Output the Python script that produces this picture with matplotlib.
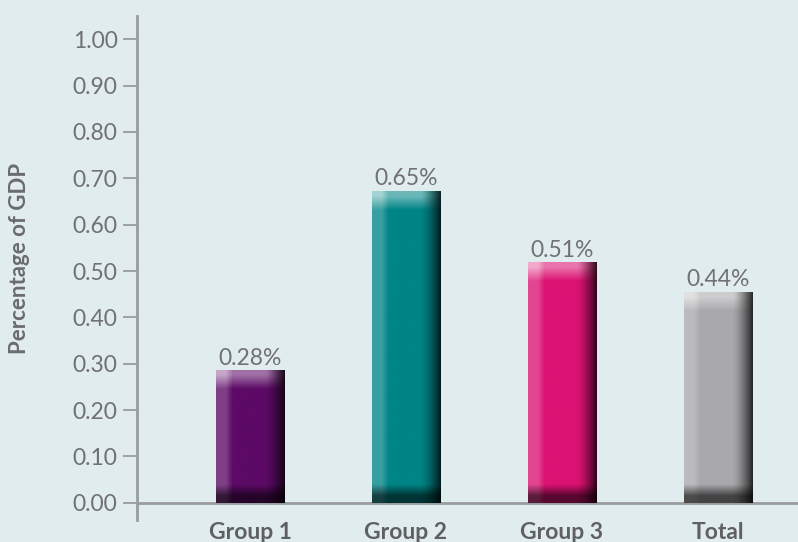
import numpy as np
import matplotlib
matplotlib.use("Agg")
import matplotlib.pyplot as plt
import matplotlib.colors as mcolors

categories = ["Group 1", "Group 2", "Group 3", "Total"]
heights = [0.285, 0.672, 0.518, 0.454]
value_labels = ["0.28%", "0.65%", "0.51%", "0.44%"]
bar_colors = ["#5c0a66", "#008486", "#dc1273", "#a9a9ac"]
yticks = [0.0, 0.1, 0.2, 0.3, 0.4, 0.5, 0.6, 0.7, 0.8, 0.9, 1.0]

bg = "#e0ecee"
axis_gray = "#9a9c9e"
text_gray = "#707173"

plt.rcParams["font.family"] = ["Lato", "DejaVu Sans"]


def bar_image(color, h, band=0.04, n=400, m=100):
    base = np.array(mcolors.to_rgb(color))
    u = np.linspace(0, 1, m)[None, :]
    y = np.linspace(h, 0, n)[:, None]
    # left highlight, right shadow
    light = 0.22 * np.clip((0.24 - u) / 0.1, 0, 1)
    dark = 1 - 0.78 * np.clip((u - 0.7) / 0.3, 0, 1) ** 1.5
    # top bevel lighter, bottom bevel darker
    top = np.clip((band - (h - y)) / 0.03, 0, 1)
    light = light + 0.42 * top * (1 - 0.6 * np.clip((u - 0.75) / 0.25, 0, 1))
    bot = np.clip((band - y) / 0.025, 0, 1)
    dark = dark * (1 - 0.6 * bot)
    light = np.clip(light, 0, 1)
    img = base[None, None, :] * (1 - light[..., None]) + light[..., None]
    img = img * dark[..., None]
    return np.clip(img, 0, 1)


fig = plt.figure(figsize=(7.98, 5.42), dpi=100, facecolor=bg)
ax = fig.add_axes([137 / 798, (542 - 520) / 542, (798 - 137) / 798, (520 - 16) / 542])
ax.set_facecolor(bg)

x = np.arange(len(categories))
bars = ax.bar(x, heights, width=0.44, color=bar_colors, zorder=2)

for b, col, lab in zip(bars, bar_colors, value_labels):
    bx, bw, bh = b.get_x(), b.get_width(), b.get_height()
    ax.imshow(bar_image(col, bh), extent=[bx, bx + bw, 0, bh], origin="upper",
              aspect="auto", interpolation="bilinear", zorder=3)
    ax.text(bx + bw / 2, bh + 0.004, lab, ha="center", va="bottom",
            fontsize=16.5, color=text_gray, zorder=4)

ax.set_xlim(-0.724, 3.513)
ax.set_ylim(-0.037, 1.05)

for s in ["top", "right"]:
    ax.spines[s].set_visible(False)
ax.spines["left"].set_color(axis_gray)
ax.spines["left"].set_linewidth(2)
ax.spines["bottom"].set_position(("data", 0))
ax.spines["bottom"].set_color(axis_gray)
ax.spines["bottom"].set_linewidth(2)

ax.set_yticks(yticks)
ax.set_yticklabels([f"{t:.2f}" for t in yticks])
ax.tick_params(axis="y", length=10, width=1.3, color=axis_gray, pad=4,
               labelsize=16.5, labelcolor=text_gray)
ax.set_xticks(x)
ax.set_xticklabels(categories, fontsize=16.5, fontweight="bold", color="#5f6062")
ax.tick_params(axis="x", length=0, pad=14)

fig.text(20 / 798, 1 - 258 / 542, "Percentage of GDP", rotation=90, ha="center",
         va="center", fontsize=16, fontweight="bold", color="#6a6b6d")

fig.savefig("out.png", dpi=100, facecolor=bg)
